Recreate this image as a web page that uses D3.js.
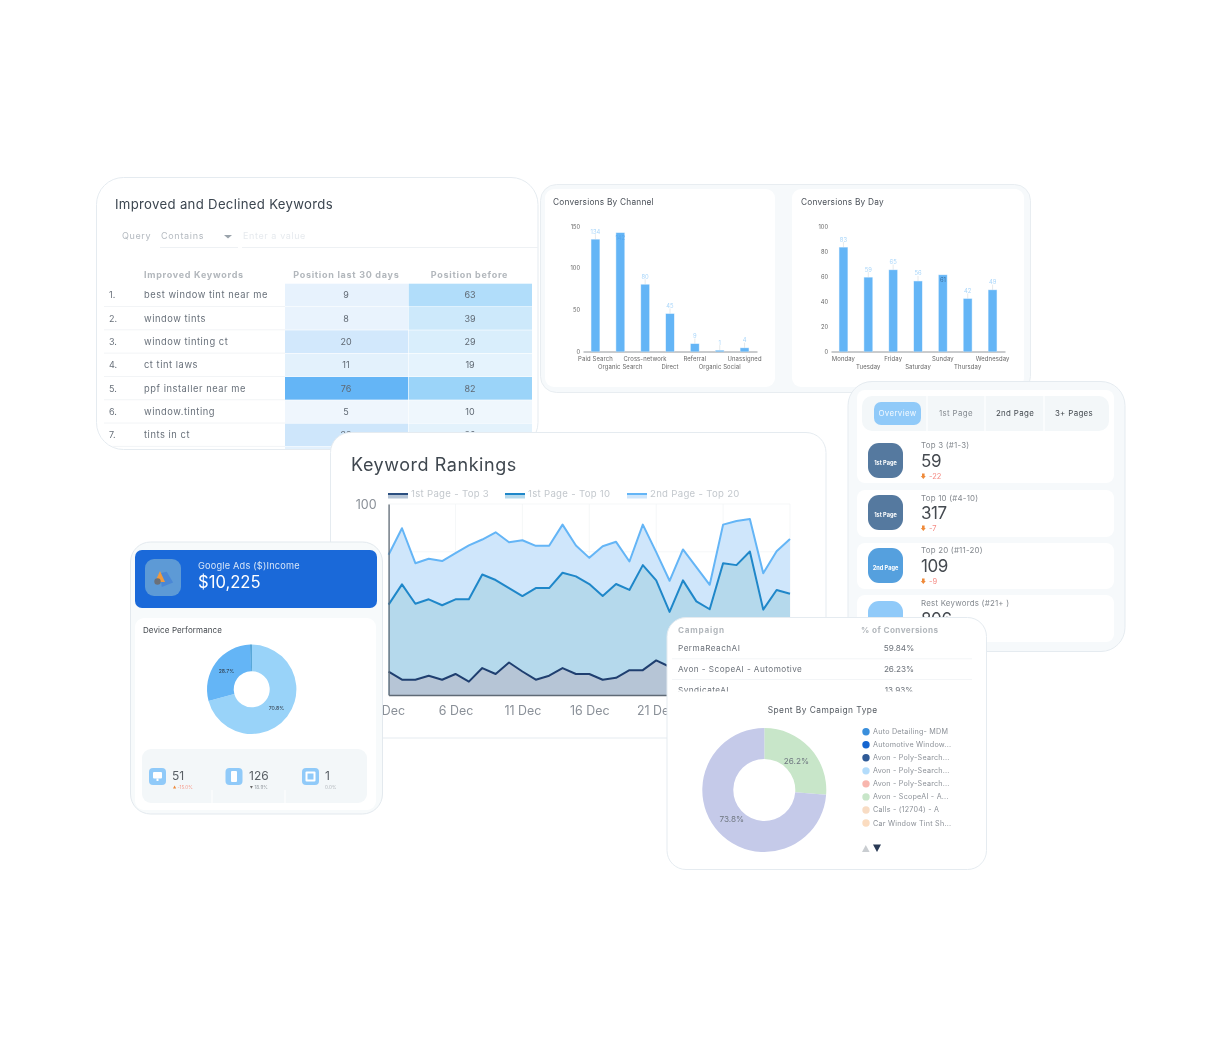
<!DOCTYPE html>
<html><head><meta charset="utf-8">
<script src="https://cdn.jsdelivr.net/npm/d3@7/dist/d3.min.js"></script>
<style>html,body{margin:0;padding:0;background:#fff}svg{display:block;filter:blur(.35px)}text{font-family:Inter,"Open Sans",sans-serif}</style>
</head><body><svg id="c" width="1221" height="1047"></svg>
<script>
// ---- data ----
const keywords=["best window tint near me","window tints","window tinting ct","ct tint laws","ppf installer near me","window.tinting","tints in ct"];
const posLast30=[9,8,20,11,76,5,22];
const posBefore=[63,39,29,19,82,10,20];
const channels=["Paid Search","Organic Search","Cross-network","Direct","Referral","Organic Social","Unassigned"];
const channelValues=[134,142,80,45,9,1,4];
const channelTicks=[0,50,100,150];
const days=["Monday","Tuesday","Friday","Saturday","Sunday","Thursday","Wednesday"];
const dayValues=[83,59,65,56,61,42,49];
const dayTicks=[0,20,40,60,80,100];
const rankTabs=["Overview","1st Page","2nd Page","3+  Pages"];
const rankNames=["Top 3 (#1-3)","Top 10 (#4-10)","Top 20 (#11-20)","Rest Keywords (#21+ )"];
const rankBadges=["1st Page","1st Page","2nd Page",""];
const rankValues=[59,317,109,806];
const rankDeltas=["-22","-7","-9",""];
const top20=[73.4,87.3,69,71.3,70.1,74.3,78.3,81.4,85.2,80,81,78.1,78.1,89.2,78.3,71.8,77.9,80.2,69.9,89.2,74.8,59.8,76.2,67,57.7,89.2,91.1,92.2,63.7,75.3,81.7];
const top10=[47.3,57.9,47.8,50.1,47,50.1,50.1,63.1,60.2,56,51.8,56,56,64,62.1,58.1,51.8,58.1,55,68,60,43.5,60,49,44.9,69,68,75.1,44.7,55,53];
const top3=[12.2,8,8,10.1,8,11,7,14.1,11,17,12.3,8,10.1,14.1,11,11,8,9,13,13,18.1,14.8];
const rankSeriesNames=["1st Page - Top 3","1st Page - Top 10","2nd Page - Top 20"];
const rankTickDates=[1,6,11,16,21,26];
const devices=["Desktop","Mobile","Tablet"];
const deviceShare=[28.7,70.8,0.5];
const deviceCounts=[51,126,1];
const deviceDeltas=["-15.0%","18.9%","0.0%"];
const campaigns=["PermaReachAI","Avon - ScopeAI - Automotive","SyndicateAI"];
const campaignConv=["59.84%","26.23%","13.93%"];
const spendShare=[26.2,73.8];
const legendNames=["Auto Detailing- MDM","Automotive Window...","Avon - Poly-Search...","Avon - Poly-Search...","Avon - Poly-Search...","Avon - ScopeAI - A...","Calls - (12704) - A","Car Window Tint Sh..."];
const legendColors=["#3a8fdc","#1565d0","#2f5a96","#b3dcfb","#f8b6ae","#c8e6c9","#f8dcc4","#fbdcc0"];

// ---- helpers ----
const svg=d3.select("#c");
const defs=svg.append("defs");
function T(g,x,y,s,o={}){
  const t=g.append("text").attr("x",x).attr("y",y).attr("dominant-baseline","central")
   .attr("font-size",o.fs||9).attr("fill",o.c||"#555").attr("text-anchor",o.a||"start")
   .attr("font-weight",o.w||400).text(s);
  if(o.ls)t.style("letter-spacing",o.ls+"px");
  return t;
}
function R(g,x0,y0,x1,y1,r,fill,stroke){
  return g.append("rect").attr("x",x0).attr("y",y0).attr("width",x1-x0).attr("height",y1-y0)
   .attr("rx",r).attr("fill",fill).attr("stroke",stroke||"none");
}
function clip(id,x0,y0,x1,y1,r){
  defs.append("clipPath").attr("id",id).append("rect").attr("x",x0).attr("y",y0).attr("width",x1-x0).attr("height",y1-y0).attr("rx",r||0);
}

// ---- Card 1: keyword table ----
(function(){
  const g=svg.append("g");
  R(g,96.5,177.5,538,449.5,27,"#fff","#e5ebf0");
  clip("c1",97,178,537.5,449,27);
  T(g,115,203.5,"Improved and Declined Keywords",{fs:13.2,c:"#3c4650",ls:.3});
  T(g,122,235.2,"Query",{fs:9,c:"#b4bac0",ls:.6});
  T(g,161,235.2,"Contains",{fs:9,c:"#b4bac0",ls:.7});
  g.append("path").attr("d","M224 235h8l-4 3.5z").attr("fill","#9aa3ab");
  T(g,243,235.2,"Enter a value",{fs:9,c:"#e6eaee",ls:.6});
  g.append("path").attr("d","M160 247.5H238M242 247.5H538").attr("stroke","#eef1f4");
  const h={fs:9,c:"#b2b7bc",w:700,ls:.72};
  T(g,144,274,"Improved Keywords",h);
  T(g,346.3,274,"Position last 30 days",{...h,a:"middle"});
  T(g,469.5,274,"Position before",{...h,a:"middle"});
  const y=d3.scaleBand().domain(d3.range(8)).range([283.7,470.2]);
  const c1=d3.scaleLinear().domain(d3.extent(posLast30)).range(["#eff6fd","#64b5f6"]);
  const c2=d3.scaleLinear().domain(d3.extent(posBefore)).range(["#eff7fd","#9bd4f9"]);
  const body=g.append("g").attr("clip-path","url(#c1)");
  keywords.forEach((k,i)=>{
    const yy=y(i),m=yy+y.bandwidth()/2-.5;
    body.append("path").attr("d",`M104 ${yy+y.bandwidth()-.5}H285`).attr("stroke","#f2f4f6");
    T(body,109,m,(i+1)+".",{fs:9,c:"#68707a"});
    T(body,144,m,k,{fs:9.3,c:"#68707a",ls:.55});
    R(body,285,yy,408,yy+y.bandwidth()-.6,0,c1(posLast30[i]));
    R(body,408.6,yy,532,yy+y.bandwidth()-.6,0,c2(posBefore[i]));
    T(body,346,m,posLast30[i],{fs:9,c:"#5f6872",a:"middle"});
    T(body,470,m,posBefore[i],{fs:9,c:"#5f6872",a:"middle"});
  });
  R(body,285,y(7),408,450,0,"#e3f1fd");R(body,408.6,y(7),532,450,0,"#eaf5fd");
})();

// ---- Card 2: bars ----
function bars(g,titleX,title,cats,vals,ticks,xr,domMax,inside,insideColor){
  T(g,titleX,202,title,{fs:8.3,c:"#4a5058",ls:.22});
  const x=d3.scaleBand().domain(cats).range(xr);
  const y=d3.scaleLinear().domain([0,domMax]).range([351.5,226.3]);
  const ax=g.append("g").attr("transform","translate(0,351.5)").call(d3.axisBottom(x).tickSize(0).tickPadding(3));
  ax.select(".domain").attr("stroke","#7a7f84").attr("stroke-width",.8);
  ax.selectAll("text").attr("font-size",5.9).attr("fill","#666").attr("font-family",null).attr("y",0).attr("dy",null)
    .attr("dominant-baseline","central").style("letter-spacing",".12px").attr("transform",(d,i)=>`translate(0,${i%2?14.5:6.7})`);
  const ay=g.append("g").attr("transform",`translate(${xr[0]-3},0)`).call(d3.axisLeft(y).tickValues(ticks).tickSize(0).tickPadding(0));
  ay.select(".domain").remove();
  ay.selectAll("text").attr("font-size",5.7).attr("fill","#666").attr("font-family",null);
  const w=8;
  cats.forEach((c,i)=>{
    const cx=x(c)+x.bandwidth()/2, top=y(vals[i]);
    const isIn=inside.includes(i);
    if(!isIn) g.append("line").attr("x1",cx).attr("x2",cx).attr("y1",top-5.5).attr("y2",top).attr("stroke","#dfe3e6").attr("stroke-width",.8);
    g.append("rect").attr("x",cx-w/2-.5).attr("y",top-.5).attr("width",w+1).attr("height",Math.max(351.5-top+.5,0)).attr("fill","#bfe0fb");
    g.append("rect").attr("x",cx-w/2).attr("y",top).attr("width",w).attr("height",351.5-top).attr("fill","#64b5f6");
    T(g,cx,isIn?top+4.5:top-8.5,vals[i],{fs:5.8,a:"middle",c:isIn?insideColor:"#a9d6fa"});
  });
}
(function(){
  const g=svg.append("g");
  R(g,540.5,184.5,1030.5,392.5,16,"#f6f9fb","#e8edf1");
  R(g,545,189,775,387,9,"#fff");
  R(g,792,189,1024,387,9,"#fff");
  bars(g,553,"Conversions By Channel",channels,channelValues,channelTicks,[583,757],150,[1],"#58a8ee");
  bars(g,801,"Conversions By Day",days,dayValues,dayTicks,[831,1005],100,[4],"#3a6f9f");
})();

// ---- Card 3: ranking counts ----
(function(){
  const g=svg.append("g");
  R(g,848,381.5,1125,651.5,24,"#f6f9fb","#e5ebf0");
  const tops=[390,490,543,595], bots=[483,537,589,642];
  tops.forEach((t,i)=>R(g,857,t,1114,bots[i],8,"#fff"));
  R(g,862,396,1109,431,10,"#f3f7f9");
  [927,985,1044].forEach(x=>g.append("line").attr("x1",x).attr("x2",x).attr("y1",396).attr("y2",431).attr("stroke","#fff").attr("stroke-width",1.2));
  R(g,874,402,921,425,7,"#90caf9");
  const tx=[897.5,956,1015,1074],tc=["#f2f9ff","#858b91","#444a50","#444a50"];
  rankTabs.forEach((t,i)=>T(g,tx[i],413.2,t,{fs:7.9,a:"middle",c:tc[i],ls:.35}));
  const iy=[443,495,548,601],ic=["#55799f","#55799f","#55a0de","#90caf9"];
  const ly=[445,497.5,550,603],ny=[460.5,513,566,619],dy=[476,528,581,0];
  rankNames.forEach((n,i)=>{
    R(g,868,iy[i],903,iy[i]+35,11,ic[i]);
    if(rankBadges[i])T(g,885.5,iy[i]+19.5,rankBadges[i],{fs:5.6,a:"middle",c:"#fff",w:700});
    T(g,921,ly[i],n,{fs:7.9,c:"#84898f",ls:.22});
    T(g,921,ny[i],rankValues[i],{fs:17,c:"#454a50",ls:-.4});
    if(rankDeltas[i]){
      g.append("path").attr("d",`M922 ${dy[i]-2.5}h2.6v2.5h1.2l-2.5 3l-2.5-3h1.2z`).attr("fill","#ef8a3a");
      T(g,929,dy[i],rankDeltas[i],{fs:7.5,c:"#f58b84"});
    }
  });
})();

// ---- Card 4: keyword ranking areas ----
(function(){
  const g=svg.append("g");
  R(g,330.5,432.5,826,738,20,"#fff","#e5ebf0");
  T(g,351,464.5,"Keyword Rankings",{fs:18,c:"#3f474f",ls:.55});
  const x=d3.scaleLinear().domain([1,31]).range([388.6,790]);
  const y=d3.scaleLinear().domain([0,100]).range([695,504]);
  const gv=[1,6,11,16,21,26,31], gh=[25,50,75,100];
  gv.forEach(d=>g.append("line").attr("x1",x(d)).attr("x2",x(d)).attr("y1",y(100)).attr("y2",y(0)).attr("stroke","#f1f3f5").attr("stroke-width",.7));
  gh.forEach(d=>g.append("line").attr("x1",x(1)).attr("x2",x(31)).attr("y1",y(d)).attr("y2",y(d)).attr("stroke","#f1f3f5").attr("stroke-width",.7));
  const series=[[top20,"#cfe6fb","#64b5f6"],[top10,"#b5d9ec","#1f87c9"],[top3,"#b6c5d6","#1f3f70"]];
  series.forEach(([v,f,s])=>{
    const a=d3.area().x((d,i)=>x(i+1)).y0(y(0)).y1(d=>y(d));
    const l=d3.line().x((d,i)=>x(i+1)).y(d=>y(d));
    g.append("path").attr("d",a(v)).attr("fill",f);
    g.append("path").attr("d",l(v)).attr("fill","none").attr("stroke",s).attr("stroke-width",2).attr("stroke-linejoin","round");
  });
  const ax=g.append("g").attr("transform","translate(0,695)").call(d3.axisBottom(x).tickValues(rankTickDates).tickFormat(d=>d+" Dec").tickSize(0).tickPadding(11));
  ax.select(".domain").attr("stroke","#5f6a76").attr("stroke-width",1.3);
  ax.selectAll("text").attr("font-size",12.4).attr("fill","#8a9098").attr("font-family",null);
  const ay=g.append("g").attr("transform","translate(388.6,0)").call(d3.axisLeft(y).tickValues([100]).tickSize(0).tickPadding(12));
  ay.select(".domain").attr("stroke","#5f6a76").attr("stroke-width",1.3);
  ay.selectAll("text").attr("font-size",12.5).attr("fill","#8a9098").attr("font-family",null);
  const lx=[388,505,627],ltx=[411,528,650],ll=["#2b4f80","#1f87c9","#64b5f6"],lf=["#b6c5d6","#b5d9ec","#cfe6fb"];
  rankSeriesNames.forEach((n,i)=>{
    R(g,lx[i],493,lx[i]+20,498.5,0,lf[i]);
    R(g,lx[i],493,lx[i]+20,495,0,ll[i]);
    T(g,ltx[i],493.5,n,{fs:9.6,c:"#c3c8cd",ls:.3});
  });
})();

// ---- Card 5: device performance ----
(function(){
  const g=svg.append("g");
  R(g,130.5,542,382.5,814,20,"#f7fafb","#e3e9ee");
  R(g,135,550,377,608,7,"#1a69d9");
  R(g,145,559,181,596,9,"#5d9ad6");
  g.append("path").attr("d","M161 572L168 572L172 584L160 586Z").attr("fill","#4a87d6").attr("transform","rotate(-12 166 578)");
  g.append("path").attr("d","M160 571L165 582L155 582Z").attr("fill","#f09a3e");
  g.append("circle").attr("cx",157.5).attr("cy",581.5).attr("r",3.2).attr("fill","#6b7078");
  T(g,198,565,"Google Ads ($)Income",{fs:9.2,c:"#d6e5f8",ls:.2});
  T(g,198,581.5,"$10,225",{fs:16.6,c:"#fff"});
  R(g,135,618,376,810,9,"#fff");
  T(g,143,630,"Device Performance",{fs:8,c:"#44494f",ls:.1});
  const d=[{v:deviceShare[1],c:"#99d3f9",t:"70.8%"},{v:deviceShare[0],c:"#64b5f6",t:"28.7%"},{v:deviceShare[2],c:"#1e88c8",t:""}];
  const pie=d3.pie().sort(null).value(e=>e.v);
  const arc=d3.arc().innerRadius(18).outerRadius(44.7);
  const dg=g.append("g").attr("transform","translate(251.7,689.3)");
  pie(d).forEach(a=>{
    dg.append("path").attr("d",arc(a)).attr("fill",a.data.c);
    if(a.data.t){const [cx,cy]=arc.centroid(a);T(dg,cx,cy,a.data.t,{fs:5.2,a:"middle",c:"#2b3440"});}
  });
  R(g,142,749,367,803,9,"#f3f7f9");
  const sx=[149,225.5,302], nx=[172,249,325];
  devices.forEach((n,i)=>{
    R(g,sx[i],768,sx[i]+17,785,4,"#90caf9");
    if(i==0){R(g,sx[i]+4,772,sx[i]+13,778.5,1,"#fff");R(g,sx[i]+7.5,778.5,sx[i]+9.5,781,0,"#fff");}
    if(i==1){R(g,sx[i]+5.5,771,sx[i]+11.5,782,1,"#fff");}
    if(i==2){R(g,sx[i]+3.5,771.5,sx[i]+13.5,781.5,1,"#fff");R(g,sx[i]+5.5,773.5,sx[i]+11.5,779.5,0,"#90caf9");}
    T(g,nx[i],775.5,deviceCounts[i],{fs:12,c:"#5a6066"});
    const col=["#f79a8a","#9aa0a6","#b0b5ba"][i];
    T(g,nx[i]+(i==2?0:5.5),787,deviceDeltas[i],{fs:4.6,c:col});
    if(i==0)g.append("path").attr("d",`M${nx[i]+1} 788.5l1.6-3l1.6 3z`).attr("fill","#ef8a3a");
    if(i==1)g.append("path").attr("d",`M${nx[i]+1} 786l1.4 2.8l1.4-2.8z`).attr("fill","#666");
  });
  [212,285].forEach(x=>g.append("line").attr("x1",x).attr("x2",x).attr("y1",790).attr("y2",803).attr("stroke","#fff"));
})();

// ---- Card 6: campaigns ----
(function(){
  const g=svg.append("g");
  R(g,667,617.5,986.5,869.5,19,"#fff","#e5ebf0");
  clip("c6",667,618,987,691.5);
  const tg=g.append("g").attr("clip-path","url(#c6)");
  T(tg,678,629.7,"Campaign",{fs:8.2,c:"#b2b7bc",w:700,ls:.75});
  T(tg,861,629.7,"% of Conversions",{fs:8.2,c:"#b2b7bc",w:700,ls:.4});
  const ry=[648.3,669,690];
  campaigns.forEach((c,i)=>{
    T(tg,678,ry[i],c,{fs:8.2,c:"#6c727a",ls:.45});
    T(tg,899,ry[i],campaignConv[i],{fs:8.2,c:"#6c727a",a:"middle"});
    if(i<2)tg.append("line").attr("x1",672).attr("x2",972).attr("y1",ry[i]+10.5).attr("y2",ry[i]+10.5).attr("stroke","#f3f5f7");
  });
  T(g,822.7,709.5,"Spent By Campaign Type",{fs:8.4,c:"#555b62",a:"middle",ls:.45});
  const arc=d3.arc().innerRadius(31).outerRadius(62);
  const pie=d3.pie().sort(null);
  const cols=["#c8e6c9","#c5cae9"];
  const dg=g.append("g").attr("transform","translate(764.3,790)");
  pie(spendShare).forEach((a,i)=>{
    dg.append("path").attr("d",arc(a)).attr("fill",cols[i]);
    const [cx,cy]=arc.centroid(a);
    T(dg,cx+(i?1.5:-2),cy+(i?-2.5:3),spendShare[i].toFixed(1)+"%",{fs:8.2,a:"middle",c:"#6f7780"});
  });
  const ly=d3.scaleLinear().domain([0,7]).range([731.7,823]);
  legendNames.forEach((n,i)=>{
    g.append("circle").attr("cx",866).attr("cy",ly(i)).attr("r",3.7).attr("fill",legendColors[i]);
    T(g,873,ly(i),n,{fs:7.2,c:"#8c9198",ls:.22});
  });
  g.append("path").attr("d","M862 852l3.8-7l3.8 7z").attr("fill","#c9cdd1");
  g.append("path").attr("d","M873 844.5h8l-4 7.5z").attr("fill","#2a3a55");
})();
</script></body></html>
